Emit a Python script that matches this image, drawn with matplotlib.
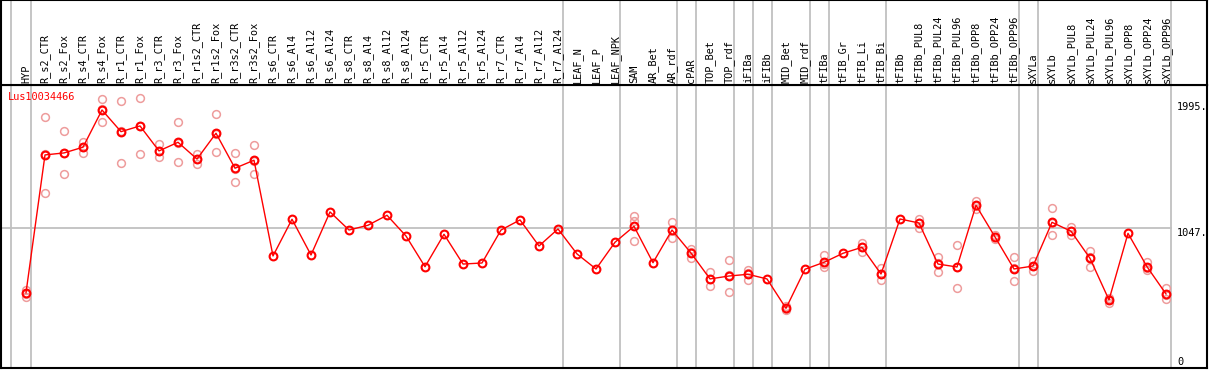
import matplotlib
matplotlib.use("Agg")
import matplotlib.pyplot as plt

categories = ["HYP", "R_s2_CTR", "R_s2_Fox", "R_s4_CTR", "R_s4_Fox", "R_r1_CTR", "R_r1_Fox",
              "R_r3_CTR", "R_r3_Fox", "R_r1s2_CTR", "R_r1s2_Fox", "R_r3s2_CTR", "R_r3s2_Fox",
              "R_s6_CTR", "R_s6_Al4", "R_s6_Al12", "R_s6_Al24", "R_s8_CTR", "R_s8_Al4",
              "R_s8_Al12", "R_s8_Al24", "R_r5_CTR", "R_r5_Al4", "R_r5_Al12", "R_r5_Al24",
              "R_r7_CTR", "R_r7_Al4", "R_r7_Al12", "R_r7_Al24", "LEAF_N", "LEAF_P", "LEAF_NPK",
              "SAM", "AR_Bet", "AR_rdf", "cPAR", "TOP_Bet", "TOP_rdf", "iFIBa", "iFIBb",
              "MID_Bet", "MID_rdf", "tFIBa", "tFIB_Gr", "tFIB_Li", "tFIB_Bi", "tFIBb",
              "tFIBb_PUL8", "tFIBb_PUL24", "tFIBb_PUL96", "tFIBb_OPP8", "tFIBb_OPP24",
              "tFIBb_OPP96", "sXYLa", "sXYLb", "sXYLb_PUL8", "sXYLb_PUL24", "sXYLb_PUL96",
              "sXYLb_OPP8", "sXYLb_OPP24", "sXYLb_OPP96"]

means = [560, 1597, 1612, 1655, 1935, 1772, 1815, 1627, 1692, 1566, 1760, 1497, 1557,
         837, 1113, 844, 1168, 1032, 1068, 1143, 987, 756, 1000, 776, 784,
         1032, 1108, 912, 1040, 852, 739, 940,
         1060, 786, 1032, 859, 664, 686, 699, 664,
         443, 737, 789, 857, 902, 701, 1115,
         1085, 776, 754, 1218, 980, 739,
         761, 1090, 1023, 819, 506, 1007, 756, 551]

replicates = {
    "HYP": [581, 551, 528],
    "R_s2_CTR": [1880, 1308, 1603],
    "R_s2_Fox": [1775, 1451, 1610],
    "R_s4_CTR": [1697, 1609, 1659],
    "R_s4_Fox": [2018, 1843, 1944],
    "R_r1_CTR": [2001, 1536, 1779],
    "R_r1_Fox": [2023, 1604, 1818],
    "R_r3_CTR": [1679, 1579, 1623],
    "R_r3_Fox": [1845, 1544, 1687],
    "R_r1s2_CTR": [1602, 1531, 1565],
    "R_r1s2_Fox": [1905, 1617, 1758],
    "R_r3s2_CTR": [1609, 1391, 1491],
    "R_r3s2_Fox": [1670, 1451, 1550],
    "SAM": [1138, 1100, 947],
    "AR_rdf": [1090, 974, 1032],
    "cPAR": [887, 824, 866],
    "TOP_Bet": [714, 613, 665],
    "TOP_rdf": [804, 564, 690],
    "iFIBa": [731, 656, 710],
    "MID_Bet": [460, 430, 440],
    "tFIBa": [842, 752, 773],
    "tFIB_Li": [932, 869, 905],
    "tFIB_Bi": [749, 656, 698],
    "tFIBb_PUL8": [1117, 1050, 1088],
    "tFIBb_PUL24": [827, 714, 787],
    "tFIBb_PUL96": [917, 594, 751],
    "tFIBb_OPP8": [1250, 1188, 1216],
    "tFIBb_OPP24": [995, 965, 980],
    "tFIBb_OPP96": [827, 646, 744],
    "sXYLa": [799, 724, 760],
    "sXYLb": [1196, 992, 1082],
    "sXYLb_PUL8": [1053, 992, 1024],
    "sXYLb_PUL24": [874, 756, 827],
    "sXYLb_PUL96": [518, 485, 515],
    "sXYLb_OPP24": [792, 731, 745],
    "sXYLb_OPP96": [596, 511, 546],
}

group_ends = ["HYP", "R_r7_Al24", "LEAF_NPK", "AR_rdf", "cPAR", "TOP_rdf", "iFIBa", "iFIBb",
              "MID_rdf", "tFIBa", "tFIB_Bi", "tFIBb_OPP96", "sXYLa", "sXYLb_OPP96"]

ytick_values = [1995, 1047, 0]
ytick_labels = ["1995.", "1047.", "0"]
gene_name = "Lus10034466"

W, H = 1209, 370
fig = plt.figure(figsize=(W / 100, H / 100), dpi=100)
fig.patch.set_facecolor("white")

xl = (-25 / 19, 1181 / 19)
ax = fig.add_axes([1 / W, 2 / H, 1206 / W, 283 / H])
hax = fig.add_axes([1 / W, 285 / H, 1206 / W, 85 / H], sharex=ax)

mono = "DejaVu Sans Mono"
grey = "#c0c0c0"
red = "#ff0000"
pink = "#ee9c9c"

xs = list(range(len(categories)))

for a in (ax, hax):
    a.set_xlim(*xl)
    a.set_xticks([])
    a.set_yticks([])
    for s in a.spines.values():
        s.set_color("black")
        s.set_linewidth(1.5)

ax.set_ylim(-6, 2123)
hax.set_ylim(0, 1)

# group separators
sep_x = [-0.78] + [categories.index(g) + 0.24 for g in group_ends]
for a in (ax, hax):
    for sx in sep_x:
        a.axvline(sx, color=grey, lw=1.3, zorder=1)

# horizontal reference line
ax.plot([xl[0], categories.index(group_ends[-1]) + 0.24], [ytick_values[1]] * 2,
        color=grey, lw=1.3, zorder=1)

# replicates
for name, vals in replicates.items():
    i = categories.index(name)
    ax.plot([i] * len(vals), vals, linestyle="none", marker="o", ms=5.6, mfc="none",
            mec=pink, mew=1.1, zorder=2)

# means
ax.plot(xs, means, color=red, lw=1.0, zorder=3)
ax.plot(xs, means, linestyle="none", marker="o", ms=5.6, mfc="none", mec=red, mew=1.5, zorder=4)

# header labels
for i, c in enumerate(categories):
    hax.text(i, 0.025, c, rotation=90, ha="center", va="bottom", fontsize=7.4,
             family=mono, color="black")

# y labels on right
xlab = (1177 - 26) / 19
for v, lab in zip(ytick_values, ytick_labels):
    ax.text(xlab, v, lab, ha="left", va="top" if v > 0 else "bottom", fontsize=7.4,
            family=mono, color="black")

ax.text(0.006, 0.975, gene_name, transform=ax.transAxes, ha="left", va="top",
        fontsize=7.4, family=mono, color=red)

fig.savefig("out.png", dpi=100, facecolor="white")
